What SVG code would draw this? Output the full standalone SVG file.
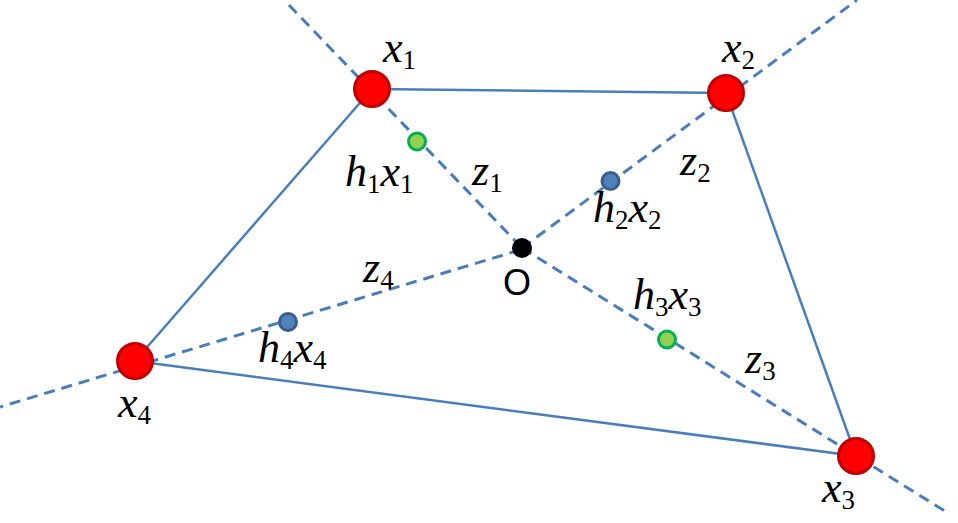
<svg xmlns="http://www.w3.org/2000/svg" width="958" height="523" viewBox="0 0 958 523">
<style>
.dash{stroke:#4a7ebb;stroke-width:3;stroke-dasharray:11 7;fill:none}
.edge{stroke:#4a7ebb;stroke-width:2.5;fill:none}
.vtx{fill:#ff0000;stroke:#c00000;stroke-width:3}
.g{fill:#92d050;stroke:#00b050;stroke-width:3}
.b{fill:#4f81bd;stroke:#385d8a;stroke-width:3}
.lbl{font-family:"Liberation Serif",serif;font-size:44px;font-style:italic;fill:#000}
.sub{font-style:normal;font-size:27px}
.o{font-family:"Liberation Sans",sans-serif;font-size:36px;fill:#000}
</style>
<rect width="958" height="523" fill="#fff"/>
<g id="connectors">
<line class="dash" x1="289" y1="5" x2="522" y2="248"/>
<line class="dash" x1="522" y1="248" x2="948" y2="513"/>
<line class="dash" x1="522" y1="248" x2="857" y2="0"/>
<line class="dash" x1="520" y1="250" x2="0" y2="407"/>
<line class="edge" x1="372" y1="89" x2="726" y2="93"/>
<line class="edge" x1="726" y1="93" x2="856" y2="456"/>
<line class="edge" x1="856" y1="456" x2="135" y2="361"/>
<line class="edge" x1="135" y1="361" x2="372" y2="89"/>
</g>
<g id="x1"><circle class="vtx" cx="372" cy="89" r="17.5"/><text class="lbl" x="383" y="62">x<tspan class="sub" dy="7">1</tspan></text></g>
<g id="x2"><circle class="vtx" cx="726" cy="93" r="17.5"/><text class="lbl" x="722" y="62">x<tspan class="sub" dy="7">2</tspan></text></g>
<g id="x3"><circle class="vtx" cx="856" cy="456" r="17.5"/><text class="lbl" x="822" y="502">x<tspan class="sub" dy="7">3</tspan></text></g>
<g id="x4"><circle class="vtx" cx="135" cy="361" r="17.5"/><text class="lbl" x="118" y="417">x<tspan class="sub" dy="7">4</tspan></text></g>
<g id="O"><circle cx="522" cy="248" r="10" fill="#000"/><text class="o" x="517" y="295" text-anchor="middle">O</text></g>
<g id="h1x1"><circle class="g" cx="417" cy="141.5" r="8.5"/><text class="lbl" x="345" y="186">h<tspan class="sub" dy="7">1</tspan><tspan dy="-7">x</tspan><tspan class="sub" dy="7">1</tspan></text></g>
<g id="h2x2"><circle class="b" cx="610.5" cy="181" r="8.5"/><text class="lbl" x="593" y="222">h<tspan class="sub" dy="7">2</tspan><tspan dy="-7">x</tspan><tspan class="sub" dy="7">2</tspan></text></g>
<g id="h3x3"><circle class="g" cx="667" cy="339.5" r="8.5"/><text class="lbl" x="633" y="309">h<tspan class="sub" dy="7">3</tspan><tspan dy="-7">x</tspan><tspan class="sub" dy="7">3</tspan></text></g>
<g id="h4x4"><circle class="b" cx="288" cy="322" r="8.5"/><text class="lbl" x="258" y="362">h<tspan class="sub" dy="7">4</tspan><tspan dy="-7">x</tspan><tspan class="sub" dy="7">4</tspan></text></g>
<g id="z1"><text class="lbl" x="472" y="185">z<tspan class="sub" dy="7">1</tspan></text></g>
<g id="z2"><text class="lbl" x="680" y="175">z<tspan class="sub" dy="7">2</tspan></text></g>
<g id="z3"><text class="lbl" x="745" y="373">z<tspan class="sub" dy="7">3</tspan></text></g>
<g id="z4"><text class="lbl" x="363" y="282">z<tspan class="sub" dy="7">4</tspan></text></g>
</svg>
